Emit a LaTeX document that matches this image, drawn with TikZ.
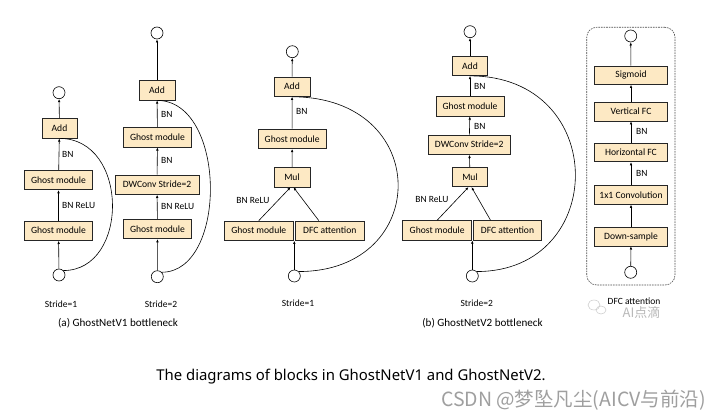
\documentclass[tikz,border=0pt]{standalone}
\usepackage{fontspec}
\setmainfont{Carlito}
\newfontfamily\capfont{Noto Sans}
\newfontfamily\cjkfont{Noto Sans CJK SC}
\usetikzlibrary{arrows.meta}
\definecolor{boxfill}{HTML}{FDE9C4}
\begin{document}
\begin{tikzpicture}[x=1pt,y=-1pt,
  blk/.style={draw=black!85, line width=0.7pt, fill=boxfill, minimum height=19.5pt, inner sep=0pt, font=\fontsize{9.6}{11}\selectfont},
  io/.style={draw, circle, minimum size=12pt, inner sep=0pt, line width=0.6pt},
  arr/.style={-{Latex[length=3.2pt,width=2.6pt]}, line width=0.6pt},
  lbl/.style={font=\fontsize{9.5}{11}\selectfont, anchor=west, inner sep=0pt},
  sub/.style={font=\fontsize{9.5}{11}\selectfont, inner sep=0pt},
  skipc/.style={line width=0.6pt},
]
\fill[white] (0,0) rectangle (714,419);
\useasboundingbox (0,0) rectangle (714,419);

% ---------- Block 1: V1 stride 1 ----------
\node[io] (c1t) at (59,92.7) {};
\node[blk, minimum width=35pt] (add1) at (59.5,128.3) {Add};
\node[blk, minimum width=68.4pt] (gm1a) at (58.5,180) {Ghost module};
\node[blk, minimum width=68.4pt] (gm1b) at (58.5,230.7) {Ghost module};
\node[io] (c1b) at (59,275) {};
\draw[arr] (c1b) -- (gm1b);
\draw[arr] (gm1b) -- (gm1a);
\draw[arr] (gm1a) -- (add1);
\draw[arr] (add1) -- (c1t);
\draw[skipc] (c1b.45) .. controls +(66,0) and +(70,0) .. (add1.south);
\node[lbl] (l1a) at (62,154.5) {BN};
\node[lbl] (l1b) at (62,205.5) {BN ReLU};

% ---------- Block 2: V1 stride 2 ----------
\node[io] (c2t) at (157,33) {};
\node[blk, minimum width=35.7pt] (add2) at (157,90.3) {Add};
\node[blk, minimum width=68.4pt] (gm2a) at (157.5,137.3) {Ghost module};
\node[blk, minimum width=84.3pt] (dw2) at (157,184.7) {DWConv Stride=2};
\node[blk, minimum width=68.4pt] (gm2b) at (157.5,229) {Ghost module};
\node[io] (c2b) at (157.3,276.7) {};
\draw[arr] (c2b) -- (gm2b);
\draw[arr] (gm2b) -- (dw2);
\draw[arr] (dw2) -- (gm2a);
\draw[arr] (gm2a) -- (add2);
\draw[arr] (add2) -- (c2t);
\draw[skipc] (c2b.45) .. controls +(66,0) and +(70,0) .. (add2.south);
\node[lbl] (l2a) at (161,114) {BN};
\node[lbl] (l2b) at (161,160) {BN};
\node[lbl] (l2c) at (161,206) {BN ReLU};

% ---------- Block 3: V2 stride 1 ----------
\node[io] (c3t) at (292.3,51.7) {};
\node[blk, minimum width=36pt] (add3) at (292,86.7) {Add};
\node[blk, minimum width=67.7pt] (gm3) at (292.2,138.8) {Ghost module};
\node[blk, minimum width=36pt] (mul3) at (292,177.2) {Mul};
\node[blk, minimum width=69pt] (gm3b) at (258.8,230.7) {Ghost module};
\node[blk, minimum width=68.3pt] (dfc3) at (329.8,230.7) {DFC attention};
\node[io] (c3b) at (294.3,276) {};
\draw[arr] (c3b) -- (c3b |- gm3b.south);
\draw[arr] (gm3b.north) -- ([xshift=-1.5pt]mul3.south);
\draw[arr] ([xshift=-11pt]dfc3.north) -- ([xshift=1.5pt]mul3.south);
\draw[arr] (mul3) -- (gm3);
\draw[arr] (gm3) -- (add3);
\draw[arr] (add3) -- (c3t);
\draw[skipc] (c3b.45) .. controls +(133,0) and +(141,0) .. (add3.south);
\node[lbl] (l3a) at (296,111.7) {BN};
\node[sub] (l3b) at (253,200) {BN ReLU};

% ---------- Block 4: V2 stride 2 ----------
\node[io] (c4t) at (470,31.7) {};
\node[blk, minimum width=34.6pt] (add4) at (470,65.8) {Add};
\node[blk, minimum width=68pt] (gm4) at (470,106.3) {Ghost module};
\node[blk, minimum width=81.7pt] (dw4) at (469.2,144.7) {DWConv Stride=2};
\node[blk, minimum width=34.6pt] (mul4) at (470,177) {Mul};
\node[blk, minimum width=69pt] (gm4b) at (437.2,230.3) {Ghost module};
\node[blk, minimum width=68.4pt] (dfc4) at (507.5,230.3) {DFC attention};
\node[io] (c4b) at (472.3,276) {};
\draw[arr] (c4b) -- (c4b |- gm4b.south);
\draw[arr] (gm4b.north) -- ([xshift=-1.5pt]mul4.south);
\draw[arr] ([xshift=-17pt]dfc4.north) -- ([xshift=1.5pt]mul4.south);
\draw[arr] (mul4) -- (dw4);
\draw[arr] (dw4) -- (gm4);
\draw[arr] (gm4) -- (add4);
\draw[arr] (add4) -- (c4t);
\draw[skipc] (c4b.45) .. controls +(132,0) and +(140,0) .. (add4.south);
\node[lbl] (l4a) at (474,86) {BN};
\node[lbl] (l4b) at (474,126) {BN};
\node[sub] (l4c) at (432,199) {BN ReLU};

% ---------- Block 5: DFC attention ----------
\node[draw=black!70, dash pattern=on 1.6pt off 1pt, line width=0.6pt, rounded corners=10pt,
      minimum width=88.3pt, minimum height=257.7pt, inner sep=0pt] (dfcbox) at (630.85,156.15) {};
\node[io] (c5t) at (630.7,36) {};
\node[blk, minimum width=73.4pt, minimum height=18.5pt] (sig) at (631,75.2) {Sigmoid};
\node[blk, minimum width=73.4pt, minimum height=18.5pt] (vfc) at (631,111.7) {Vertical FC};
\node[blk, minimum width=73.4pt, minimum height=18.5pt] (hfc) at (631,152.5) {Horizontal FC};
\node[blk, minimum width=73.4pt, minimum height=18.5pt] (conv) at (631,195) {1x1 Convolution};
\node[blk, minimum width=73.4pt, minimum height=18.5pt] (ds) at (631,236.7) {Down-sample};
\node[io] (c5b) at (630.7,272.3) {};
\draw[arr] (c5b) -- (ds);
\draw[arr] (ds) -- (conv);
\draw[arr] (conv) -- (hfc);
\draw[arr] (hfc) -- (vfc);
\draw[arr] (vfc) -- (sig);
\draw[arr] (sig) -- (c5t);
\node[lbl] (l5a) at (636,131.7) {BN};
\node[lbl] (l5b) at (636,173.3) {BN};

% ---------- sub captions ----------
\node[sub] (s1) at (61,304) {Stride=1};
\node[sub] (s2) at (161,304) {Stride=2};
\node[sub] (s3) at (298,303.5) {Stride=1};
\node[sub] (s4) at (476.7,303.7) {Stride=2};
\node[sub] (s5) at (634,301) {DFC attention};
\node[inner sep=0pt, font=\fontsize{11.1}{13}\selectfont] (capa) at (118,323.3) {(a) GhostNetV1 bottleneck};
\node[inner sep=0pt, font=\fontsize{11.1}{13}\selectfont] (capb) at (482.5,323.3) {(b) GhostNetV2 bottleneck};

% ---------- watermark ----------
\draw[gray!40, line width=0.5pt] (594,305) ellipse (6pt and 5pt);
\draw[gray!40, line width=0.5pt] (601,310) ellipse (5pt and 4pt);
\node[inner sep=0pt, text=gray!55, font=\cjkfont\fontsize{13}{15}\selectfont] (wm1) at (641.5,313) {AI点滴};

% ---------- main caption ----------
\node[inner sep=0pt, font=\capfont\fontsize{14.9}{17}\selectfont] (cap) at (351,376.7) {The diagrams of blocks in GhostNetV1 and GhostNetV2.};
\node[inner sep=0pt, anchor=east, text=gray!75, font=\cjkfont\fontsize{19.5}{22}\selectfont] (wm2) at (706,400) {CSDN @梦坠凡尘(AICV与前沿)};
\end{tikzpicture}
\end{document}
